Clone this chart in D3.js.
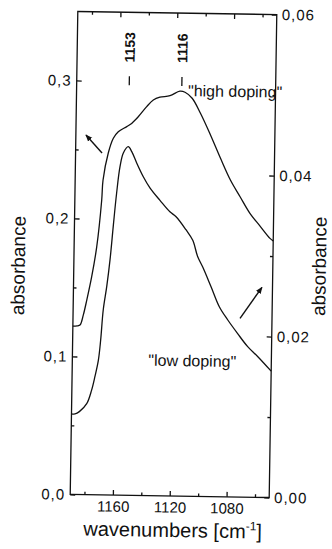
<!DOCTYPE html>
<html>
<head>
<meta charset="utf-8">
<script src="https://cdn.jsdelivr.net/npm/d3@7"></script>
<style>
  html, body { margin: 0; padding: 0; background: #fff; }
  svg { display: block; font-family: "Liberation Sans", Arial, sans-serif; }
  .axis path, .axis line { stroke: #111; stroke-width: 1.3; }
  .axis text { font-size: 15px; fill: #111; font-family: "Liberation Sans", Arial, sans-serif; }
</style>
</head>
<body>
<svg id="chart" width="332" height="549"></svg>
<script>
// wavenumbers (cm-1) and absorbance
const highX = [1190, 1187, 1185.0, 1182.8, 1180.5, 1177.3, 1174.1, 1171.1, 1170.4, 1167.0, 1163.6, 1160.2, 1154.3, 1150.9, 1146.3, 1140.5, 1135.9, 1131.3, 1124.2, 1117.3, 1113.7, 1108.6, 1102.6, 1095.3, 1088.0, 1080.8, 1073.8, 1066.7, 1059.7, 1052.3, 1050];
const highY = [0.122, 0.1222, 0.1228, 0.130, 0.141, 0.158, 0.1796, 0.2137, 0.228, 0.2478, 0.2585, 0.2633, 0.2671, 0.2695, 0.2744, 0.2818, 0.2867, 0.2888, 0.2900, 0.2934, 0.2927, 0.2884, 0.2776, 0.262, 0.2452, 0.2296, 0.2176, 0.2057, 0.1969, 0.1878, 0.186];

const lowX = [1190, 1187.5, 1184.5, 1179.4, 1176.1, 1173.9, 1171.7, 1170.3, 1168.8, 1166.6, 1164.6, 1162.6, 1160.7, 1158.6, 1156.4, 1153.0, 1150.5, 1146.9, 1142.1, 1137.2, 1130.1, 1123.0, 1118.6, 1111.5, 1106.6, 1103.0, 1099.3, 1093.3, 1087.2, 1081.2, 1074.0, 1066.8, 1059.7, 1050];
const lowY = [0.0100, 0.0100, 0.0103, 0.0113, 0.0130, 0.0147, 0.0167, 0.0192, 0.0230, 0.0259, 0.0292, 0.0336, 0.0375, 0.0408, 0.0425, 0.0433, 0.0427, 0.0413, 0.0396, 0.0382, 0.0367, 0.0353, 0.0347, 0.0331, 0.0318, 0.0298, 0.0285, 0.0261, 0.0236, 0.0220, 0.0203, 0.0187, 0.0175, 0.0157];

const xTicks = [1160, 1120, 1080];
const xMinor = [1180, 1140, 1100, 1060];
const leftTicks = [0, 0.1, 0.2, 0.3];
const leftMinor = [0.05, 0.15, 0.25];
const rightTicks = [0, 0.02, 0.04, 0.06];
const rightMinor = [0.01, 0.03, 0.05];
const peaks = [1153, 1116];

const svg = d3.select("#chart");
svg.append("rect").attr("width", 332).attr("height", 549).attr("fill", "#fff");

const plotLeft = 74, plotRight = 273, plotTop = 13, plotBottom = 496;

// the scan is turned a little, so everything sits in a rotated group
const g = svg.append("g").attr("transform", "rotate(0.9,173.5,254.5)");

const x = d3.scaleLinear().domain([1190, 1050]).range([plotLeft, plotRight]);
const yL = d3.scaleLinear().domain([0, 0.35]).range([plotBottom, plotTop]);
const yR = d3.scaleLinear().domain([0, 0.06]).range([plotBottom, plotTop]);

const comma = (n) => (d) => d.toFixed(n).replace(".", ",");

// frame
g.append("rect")
    .attr("x", plotLeft).attr("y", plotTop)
    .attr("width", plotRight - plotLeft).attr("height", plotBottom - plotTop)
    .attr("fill", "none").attr("stroke", "#111").attr("stroke-width", 1.3);

// x axis
g.append("g").attr("class", "axis")
    .attr("transform", `translate(0,${plotBottom})`)
    .call(d3.axisBottom(x).tickValues(xTicks).tickSize(-5).tickPadding(6).tickFormat(d3.format("d")))
    .call(a => a.select(".domain").remove());
g.append("g").attr("class", "axis")
    .attr("transform", `translate(0,${plotBottom})`)
    .call(d3.axisBottom(x).tickValues(xMinor).tickSize(-3).tickFormat(""))
    .call(a => a.select(".domain").remove());
g.append("g").attr("class", "axis")
    .attr("transform", `translate(0,${plotTop})`)
    .call(d3.axisTop(x).tickValues(xTicks).tickSize(-5).tickFormat(""))
    .call(a => a.select(".domain").remove());
g.append("g").attr("class", "axis")
    .attr("transform", `translate(0,${plotTop})`)
    .call(d3.axisTop(x).tickValues(xMinor).tickSize(-3).tickFormat(""))
    .call(a => a.select(".domain").remove());

// left axis
g.append("g").attr("class", "axis")
    .attr("transform", `translate(${plotLeft},0)`)
    .call(d3.axisLeft(yL).tickValues(leftTicks).tickSize(-5).tickPadding(5).tickFormat(comma(1)))
    .call(a => a.select(".domain").remove())
    .selectAll("text").attr("letter-spacing", 1);
g.append("g").attr("class", "axis")
    .attr("transform", `translate(${plotLeft},0)`)
    .call(d3.axisLeft(yL).tickValues(leftMinor).tickSize(-3).tickFormat(""))
    .call(a => a.select(".domain").remove());

// right axis
g.append("g").attr("class", "axis")
    .attr("transform", `translate(${plotRight},0)`)
    .call(d3.axisRight(yR).tickValues(rightTicks).tickSize(-5).tickPadding(5).tickFormat(comma(2)))
    .call(a => a.select(".domain").remove())
    .selectAll("text").attr("letter-spacing", 1);
g.append("g").attr("class", "axis")
    .attr("transform", `translate(${plotRight},0)`)
    .call(d3.axisRight(yR).tickValues(rightMinor).tickSize(-3).tickFormat(""))
    .call(a => a.select(".domain").remove());

// curves
const highLine = d3.line()
    .x((d, i) => x(highX[i]))
    .y(d => yL(d))
    .curve(d3.curveCatmullRom.alpha(0.5));
const lowLine = d3.line()
    .x((d, i) => x(lowX[i]))
    .y(d => yR(d))
    .curve(d3.curveCatmullRom.alpha(0.5));

g.append("path").attr("d", highLine(highY))
    .attr("fill", "none").attr("stroke", "#111").attr("stroke-width", 1.3);
g.append("path").attr("d", lowLine(lowY))
    .attr("fill", "none").attr("stroke", "#111").attr("stroke-width", 1.3);

// peak labels
peaks.forEach(p => {
    g.append("text")
        .attr("transform", `translate(${x(p) + 5},48) rotate(-90)`)
        .attr("text-anchor", "middle")
        .attr("font-size", 14).attr("font-weight", "bold").attr("fill", "#111")
        .text(p);
    g.append("line")
        .attr("x1", x(p)).attr("x2", x(p))
        .attr("y1", 77).attr("y2", 86)
        .attr("stroke", "#111").attr("stroke-width", 1.3);
});

g.append("text")
    .attr("x", 185.5).attr("y", 96)
    .attr("font-size", 16).attr("fill", "#111")
    .text("\"high doping\"");
g.append("text")
    .attr("x", 150).attr("y", 366)
    .attr("font-size", 16).attr("fill", "#111")
    .text("\"low doping\"");

// arrows pointing to the axis each curve uses
const defs = svg.append("defs");
defs.append("marker")
    .attr("id", "head")
    .attr("viewBox", "0 0 10 10")
    .attr("refX", 9).attr("refY", 5)
    .attr("markerWidth", 7).attr("markerHeight", 7)
    .attr("markerUnits", "userSpaceOnUse")
    .attr("orient", "auto")
    .append("path").attr("d", "M0,1 L10,5 L0,9 Z").attr("fill", "#111");

g.append("line")
    .attr("x1", x(1171.4)).attr("y1", yL(0.2477))
    .attr("x2", x(1182.9)).attr("y2", yL(0.2606))
    .attr("stroke", "#111").attr("stroke-width", 1.4)
    .attr("marker-end", "url(#head)");
g.append("line")
    .attr("x1", x(1072.5)).attr("y1", yR(0.0222))
    .attr("x2", x(1057.4)).attr("y2", yR(0.0261))
    .attr("stroke", "#111").attr("stroke-width", 1.4)
    .attr("marker-end", "url(#head)");

// axis titles
g.append("text")
    .attr("transform", "translate(25,268) rotate(-90)")
    .attr("text-anchor", "middle")
    .attr("font-size", 19).attr("fill", "#111")
    .text("absorbance");
g.append("text")
    .attr("transform", "translate(326,264) rotate(-90)")
    .attr("text-anchor", "middle")
    .attr("font-size", 19).attr("fill", "#111")
    .text("absorbance");

const xt = g.append("text")
    .attr("x", 177).attr("y", 537)
    .attr("text-anchor", "middle")
    .attr("font-size", 20).attr("fill", "#111");
xt.append("tspan").text("wavenumbers [cm");
xt.append("tspan").attr("font-size", 12).attr("dy", -8).text("-1");
xt.append("tspan").attr("dy", 8).text("]");
</script>
</body>
</html>
